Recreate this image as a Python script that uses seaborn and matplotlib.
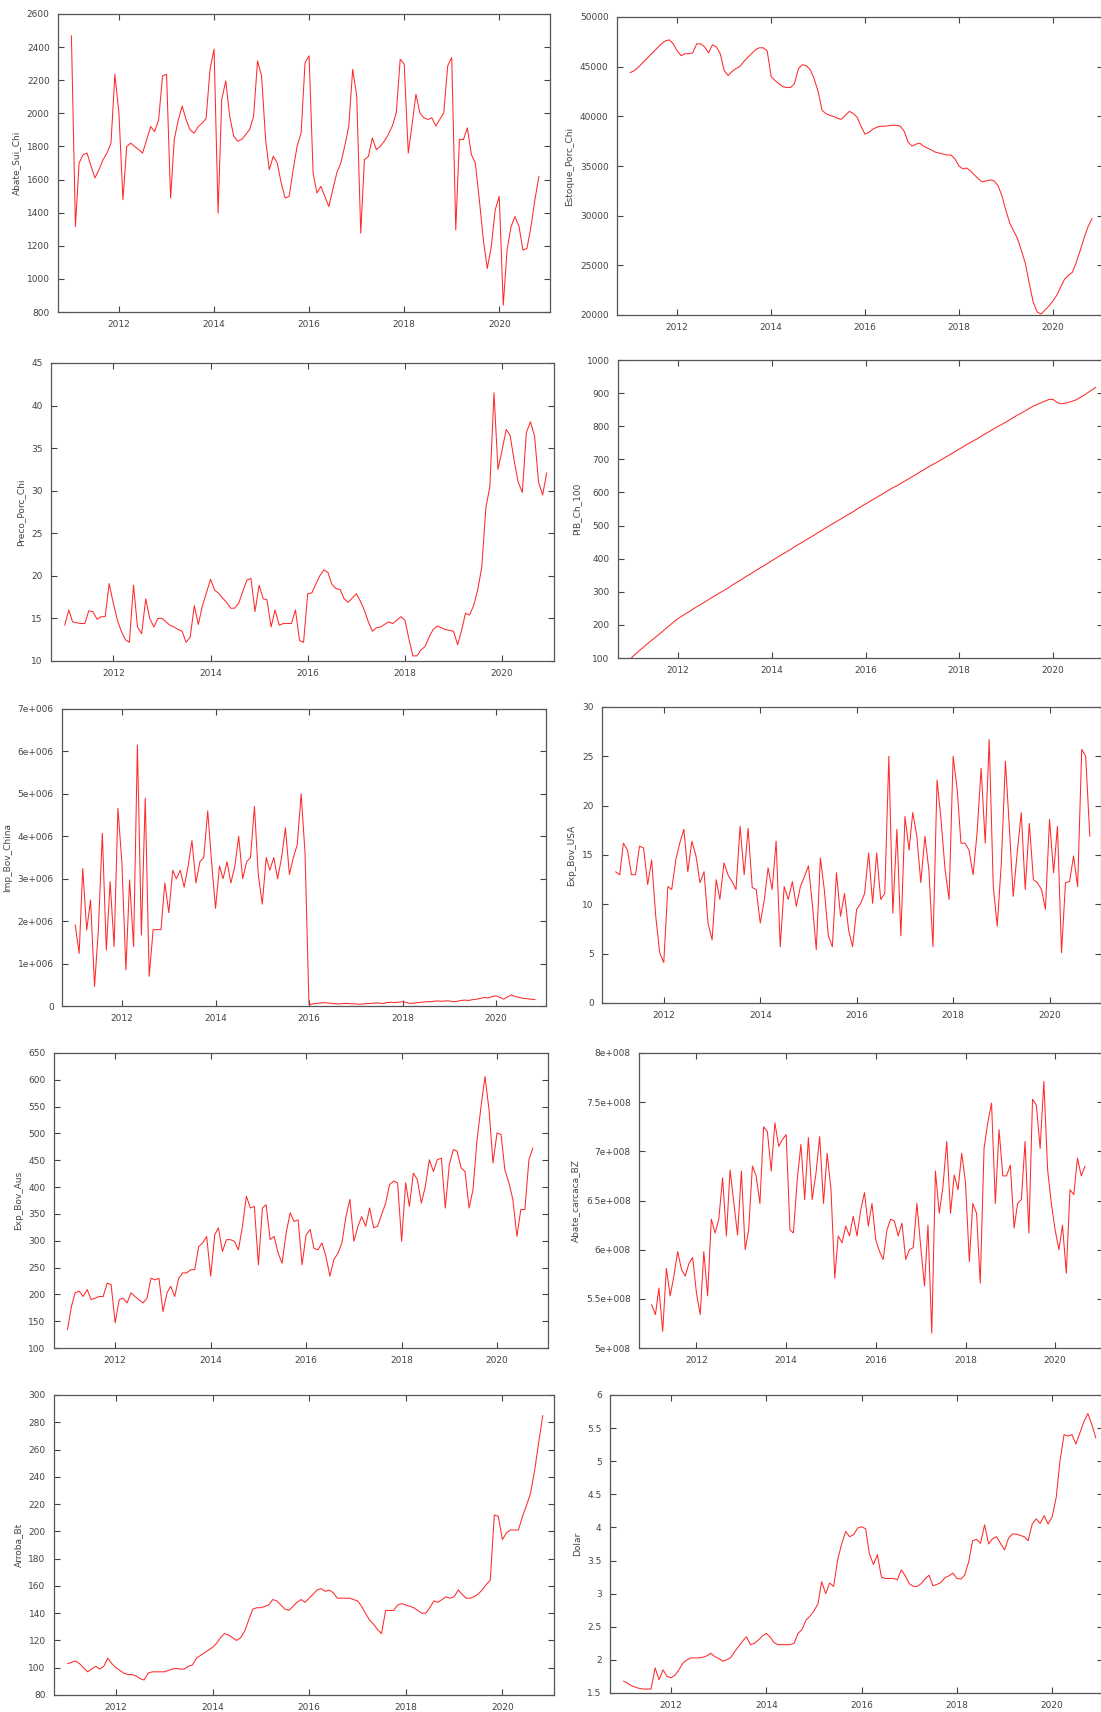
import matplotlib
matplotlib.use("Agg")
import matplotlib.pyplot as plt
import matplotlib.dates as mdates
from matplotlib.ticker import MultipleLocator, FuncFormatter
import pandas as pd
import seaborn as sns

# monthly data, Jan 2011 onwards
abate_sui_chi = [2469, 1316, 1700, 1750, 1760, 1680, 1610, 1660, 1720, 1760, 1820, 2236,
                 2004, 1478, 1800, 1820, 1800, 1780, 1760, 1840, 1920, 1890, 1960, 2226,
                 2236, 1488, 1840, 1960, 2044, 1960, 1900, 1880, 1920, 1940, 1970, 2266,
                 2388, 1397, 2084, 2196, 1983, 1862, 1832, 1842, 1872, 1902, 1983, 2317,
                 2226, 1842, 1660, 1741, 1700, 1579, 1488, 1498, 1660, 1801, 1882, 2307,
                 2347, 1640, 1519, 1559, 1498, 1437, 1539, 1640, 1700, 1801, 1923, 2266,
                 2105, 1276, 1720, 1740, 1852, 1780, 1801, 1832, 1872, 1923, 2003, 2327,
                 2297, 1760, 1923, 2115, 2003, 1973, 1963, 1973, 1923, 1963, 2003, 2287,
                 2337, 1296, 1842, 1842, 1912, 1751, 1700, 1478, 1235, 1063, 1195, 1417,
                 1498, 841, 1174, 1316, 1377, 1316, 1174, 1184, 1316, 1478, 1620]

estoque_porc_chi = [44400, 44600, 44900, 45300, 45700, 46100, 46500, 46900, 47300, 47600, 47700, 47300,
                    46600, 46100, 46300, 46300, 46400, 47300, 47300, 47000, 46400, 47200, 47000, 46300,
                    44600, 44100, 44500, 44800, 45000, 45500, 45900, 46300, 46700, 46900, 46900, 46600,
                    44000, 43600, 43300, 43000, 42900, 42900, 43300, 44800, 45200, 45100, 44700, 43800,
                    42500, 40600, 40300, 40100, 40000, 39800, 39700, 40100, 40500, 40300, 39900, 39000,
                    38200, 38400, 38700, 38900, 39000, 39000, 39050, 39100, 39100, 39000, 38500, 37400,
                    37000, 37200, 37300, 37000, 36800, 36600, 36400, 36300, 36200, 36100, 36100, 35700,
                    35000, 34700, 34800, 34500, 34100, 33700, 33400, 33500, 33600, 33500, 33000, 32000,
                    30500, 29200, 28500, 27700, 26500, 25200, 23200, 21300, 20300, 20100, 20500, 20900,
                    21400, 22000, 22800, 23600, 24000, 24300, 25300, 26500, 27800, 28900, 29700]

preco_porc_chi = [14.2, 16.0, 14.6, 14.5, 14.4, 14.4, 15.9, 15.8, 14.9, 15.2, 15.2, 19.1,
                  16.8, 14.8, 13.5, 12.5, 12.2, 18.9, 14.0, 13.2, 17.3, 15.0, 14.0, 15.0,
                  15.0, 14.6, 14.2, 14.0, 13.7, 13.5, 12.2, 12.8, 16.5, 14.3, 16.5, 18.0,
                  19.6, 18.3, 18.0, 17.4, 16.9, 16.2, 16.2, 16.8, 18.2, 19.5, 19.7, 15.8,
                  18.9, 17.3, 17.2, 14.0, 16.0, 14.2, 14.4, 14.4, 14.4, 16.0, 12.4, 12.2,
                  17.9, 18.0, 19.0, 20.0, 20.7, 20.4, 19.0, 18.5, 18.4, 17.3, 16.9, 17.4,
                  17.9, 17.0, 16.0, 14.6, 13.5, 13.9, 14.0, 14.3, 14.6, 14.4, 14.8, 15.2,
                  14.8, 12.5, 10.6, 10.6, 11.3, 11.7, 12.8, 13.7, 14.1, 13.9, 13.7, 13.6,
                  13.5, 11.9, 13.5, 15.6, 15.4, 16.5, 18.3, 21.0, 28.0, 30.5, 41.5, 32.5,
                  34.8, 37.2, 36.5, 33.5, 31.0, 29.8, 36.8, 38.1, 36.4, 31.0, 29.5, 32.1]

pib_ch_100 = [100, 111, 121, 131, 141, 151, 160, 170, 180, 190, 200, 210,
              219, 227, 234, 241, 249, 256, 263, 270, 278, 285, 292, 299,
              306, 313, 321, 328, 335, 343, 350, 357, 365, 372, 379, 386,
              394, 401, 408, 415, 422, 429, 437, 444, 451, 458, 465, 472,
              480, 487, 494, 501, 508, 515, 522, 529, 536, 543, 551, 558,
              565, 572, 579, 586, 593, 600, 607, 614, 620, 627, 634, 641,
              648, 655, 662, 669, 676, 683, 689, 696, 703, 710, 717, 724,
              731, 738, 745, 752, 758, 765, 772, 779, 786, 793, 800, 806,
              813, 820, 827, 834, 840, 847, 854, 861, 866, 871, 876, 881,
              881, 872, 868, 869, 872, 876, 880, 887, 894, 902, 910, 918]

imp_bov_china = [1.91e6, 1.24e6, 3.24e6, 1.79e6, 2.50e6, 0.46e6, 1.79e6, 4.07e6, 1.32e6, 2.93e6, 1.40e6, 4.66e6,
                 3.36e6, 0.85e6, 2.97e6, 1.40e6, 6.15e6, 1.67e6, 4.90e6, 0.70e6, 1.80e6, 1.80e6, 1.80e6, 2.90e6,
                 2.20e6, 3.20e6, 3.00e6, 3.20e6, 2.80e6, 3.30e6, 3.90e6, 2.90e6, 3.40e6, 3.50e6, 4.60e6, 3.40e6,
                 2.30e6, 3.30e6, 3.00e6, 3.40e6, 2.90e6, 3.30e6, 4.00e6, 3.00e6, 3.40e6, 3.50e6, 4.70e6, 3.10e6,
                 2.40e6, 3.50e6, 3.20e6, 3.50e6, 3.00e6, 3.50e6, 4.20e6, 3.10e6, 3.50e6, 3.80e6, 5.00e6, 3.60e6,
                 0.03e6, 0.05e6, 0.06e6, 0.07e6, 0.08e6, 0.07e6, 0.06e6, 0.05e6, 0.05e6, 0.06e6, 0.06e6, 0.05e6,
                 0.05e6, 0.04e6, 0.05e6, 0.06e6, 0.06e6, 0.07e6, 0.07e6, 0.06e6, 0.08e6, 0.09e6, 0.08e6, 0.09e6,
                 0.10e6, 0.08e6, 0.06e6, 0.07e6, 0.08e6, 0.09e6, 0.10e6, 0.10e6, 0.11e6, 0.12e6, 0.11e6, 0.12e6,
                 0.12e6, 0.10e6, 0.11e6, 0.13e6, 0.14e6, 0.13e6, 0.15e6, 0.16e6, 0.18e6, 0.20e6, 0.19e6, 0.22e6,
                 0.24e6, 0.20e6, 0.16e6, 0.22e6, 0.26e6, 0.22e6, 0.20e6, 0.18e6, 0.17e6, 0.16e6, 0.15e6]

exp_bov_usa = [13.3, 13.0, 16.2, 15.5, 13.0, 13.0, 15.9, 15.7, 12.0, 14.5, 8.8, 5.1,
               4.1, 11.8, 11.5, 14.5, 16.2, 17.6, 13.3, 16.4, 14.9, 12.2, 13.3, 8.1,
               6.4, 12.5, 10.5, 14.2, 13.0, 12.3, 11.5, 17.9, 13.0, 17.7, 11.7, 11.5,
               8.1, 10.5, 13.7, 11.5, 16.4, 5.7, 11.8, 10.5, 12.3, 9.8, 11.8, 12.8,
               13.9, 9.8, 5.4, 14.7, 11.5, 6.8, 5.7, 13.2, 8.8, 11.1, 7.4, 5.7,
               9.5, 10.1, 11.1, 15.2, 10.1, 15.2, 10.5, 11.1, 25.0, 9.1, 17.6, 6.8,
               18.9, 15.5, 19.3, 16.9, 12.2, 16.9, 13.5, 5.7, 22.6, 18.6, 13.5, 10.5,
               25.0, 21.6, 16.2, 16.2, 15.5, 13.0, 17.2, 23.8, 16.2, 26.7, 11.8, 7.8,
               14.2, 24.5, 18.2, 10.8, 15.2, 19.3, 11.5, 18.2, 12.5, 12.2, 11.5, 9.5,
               18.6, 13.2, 17.9, 5.1, 12.2, 12.3, 14.9, 11.8, 25.7, 25.0, 16.9]

exp_bov_aus = [134, 178, 203, 206, 196, 209, 190, 193, 196, 196, 221, 218,
               147, 190, 193, 184, 203, 196, 190, 184, 193, 230, 227, 230,
               168, 203, 215, 196, 230, 240, 240, 246, 246, 289, 296, 308,
               234, 311, 324, 280, 302, 302, 299, 283, 327, 383, 361, 364,
               255, 361, 367, 302, 308, 277, 258, 314, 352, 336, 339, 255,
               311, 321, 286, 283, 296, 271, 234, 265, 277, 296, 345, 377,
               299, 327, 345, 327, 361, 324, 327, 349, 370, 405, 411, 408,
               299, 408, 364, 426, 414, 370, 401, 451, 429, 451, 454, 361,
               442, 470, 467, 436, 429, 361, 395, 488, 551, 606, 544, 445,
               501, 498, 432, 408, 377, 308, 358, 358, 451, 473]

abate_carcaca_bz = [5.44e8, 5.34e8, 5.61e8, 5.17e8, 5.81e8, 5.53e8, 5.73e8, 5.98e8, 5.80e8, 5.73e8, 5.86e8, 5.92e8,
                    5.56e8, 5.34e8, 5.98e8, 5.53e8, 6.31e8, 6.17e8, 6.31e8, 6.73e8, 6.14e8, 6.81e8, 6.47e8, 6.15e8,
                    6.80e8, 6.00e8, 6.20e8, 6.85e8, 6.75e8, 6.47e8, 7.25e8, 7.20e8, 6.80e8, 7.29e8, 7.05e8, 7.12e8,
                    7.17e8, 6.20e8, 6.17e8, 6.71e8, 7.07e8, 6.51e8, 7.14e8, 6.51e8, 6.78e8, 7.15e8, 6.47e8, 6.98e8,
                    6.61e8, 5.71e8, 6.14e8, 6.07e8, 6.24e8, 6.14e8, 6.34e8, 6.14e8, 6.41e8, 6.58e8, 6.24e8, 6.47e8,
                    6.10e8, 5.98e8, 5.90e8, 6.20e8, 6.31e8, 6.29e8, 6.14e8, 6.27e8, 5.90e8, 6.00e8, 6.02e8, 6.47e8,
                    6.03e8, 5.63e8, 6.25e8, 5.15e8, 6.80e8, 6.37e8, 6.64e8, 7.10e8, 6.37e8, 6.76e8, 6.61e8, 6.98e8,
                    6.68e8, 5.88e8, 6.47e8, 6.37e8, 5.66e8, 7.03e8, 7.29e8, 7.49e8, 6.47e8, 7.22e8, 6.75e8, 6.75e8,
                    6.86e8, 6.22e8, 6.47e8, 6.51e8, 7.10e8, 6.17e8, 7.53e8, 7.47e8, 7.03e8, 7.71e8, 6.81e8, 6.47e8,
                    6.20e8, 6.00e8, 6.25e8, 5.76e8, 6.61e8, 6.56e8, 6.93e8, 6.75e8, 6.85e8]

arroba_bt = [103, 104, 105, 103, 100, 97, 99, 101, 99, 101, 107, 103,
             100, 98, 96, 95, 95, 94, 92, 91, 96, 97, 97, 97,
             97, 98, 99, 99.5, 99, 99, 101, 102, 107, 109, 111, 113,
             115, 118, 122, 125, 124, 122, 120, 122, 127, 135, 143, 144,
             144, 145, 146, 150, 149, 146, 143, 142, 145, 148, 150, 148,
             151, 154, 157, 158, 156, 157, 155, 151, 151, 151, 151, 150,
             149, 145, 140, 135, 132, 128, 125, 142, 142, 142, 146, 147,
             146, 145, 144, 142, 140, 140, 144, 149, 148, 150, 152, 151,
             152, 157, 154, 151, 151, 152, 154, 157, 161, 164, 212, 211,
             194, 199, 201, 201, 201, 211, 219, 228, 245, 265, 285]

dolar = [1.68, 1.65, 1.61, 1.59, 1.57, 1.56, 1.56, 1.56, 1.88, 1.70, 1.85, 1.75,
         1.73, 1.77, 1.85, 1.95, 2.00, 2.03, 2.03, 2.03, 2.04, 2.06, 2.10, 2.05,
         2.02, 1.98, 2.00, 2.03, 2.12, 2.20, 2.28, 2.35, 2.23, 2.25, 2.30, 2.36,
         2.40, 2.34, 2.26, 2.23, 2.23, 2.23, 2.23, 2.25, 2.40, 2.46, 2.60, 2.66,
         2.74, 2.85, 3.18, 3.00, 3.16, 3.11, 3.51, 3.75, 3.94, 3.86, 3.89, 3.99,
         4.01, 3.98, 3.60, 3.44, 3.59, 3.25, 3.23, 3.23, 3.23, 3.21, 3.36, 3.27,
         3.15, 3.11, 3.11, 3.15, 3.22, 3.28, 3.12, 3.14, 3.17, 3.24, 3.27, 3.31,
         3.23, 3.22, 3.28, 3.48, 3.80, 3.82, 3.76, 4.04, 3.75, 3.83, 3.86, 3.76,
         3.66, 3.84, 3.90, 3.90, 3.88, 3.86, 3.80, 4.05, 4.13, 4.06, 4.18, 4.05,
         4.16, 4.45, 5.00, 5.40, 5.38, 5.40, 5.26, 5.43, 5.60, 5.72, 5.55, 5.35]

dates = pd.date_range("2011-01-01", periods=120, freq="MS")

plain = FuncFormatter(lambda v, p: f"{v:g}")
sci6 = FuncFormatter(lambda v, p: "0" if v == 0 else f"{v / 1e6:g}e+006")
sci8 = FuncFormatter(lambda v, p: f"{v / 1e8:g}e+008")

# name, values, ylim, step, formatter, axes box in pixels (left, right, top, bottom)
panels = [
    ("Abate_Sui_Chi", abate_sui_chi, (800, 2600), 200, plain, (58, 550, 14, 312)),
    ("Estoque_Porc_Chi", estoque_porc_chi, (20000, 50000), 5000, plain, (617, 1103, 17, 315)),
    ("Preco_Porc_Chi", preco_porc_chi, (10, 45), 5, plain, (51, 554, 363, 661)),
    ("PIB_Ch_100", pib_ch_100, (100, 1000), 100, plain, (618, 1103, 360, 658)),
    ("Imp_Bov_China", imp_bov_china, (0, 7e6), 1e6, sci6, (62, 546, 709, 1006)),
    ("Exp_Bov_USA", exp_bov_usa, (0, 30), 5, plain, (602, 1101, 707, 1003)),
    ("Exp_Bov_Aus", exp_bov_aus, (100, 650), 50, plain, (54, 548, 1053, 1348)),
    ("Abate_carcaca_BZ", abate_carcaca_bz, (5e8, 8e8), 0.5e8, sci8, (639, 1103, 1053, 1348)),
    ("Arroba_Bt", arroba_bt, (80, 300), 20, plain, (54, 554, 1395, 1695)),
    ("Dolar", dolar, (1.5, 6), 0.5, plain, (610, 1103, 1395, 1693)),
]

sns.set_style("ticks")
plt.rcParams["font.family"] = ["DejaVu Sans"]

W, H = 1101, 1712
fig = plt.figure(figsize=(W / 100, H / 100), dpi=100)

for name, vals, ylim, step, fmt, (l, r, t, b) in panels:
    ax = fig.add_axes([l / W, 1 - b / H, (r - l) / W, (b - t) / H])
    df = pd.DataFrame({"date": dates[:len(vals)], name: vals})
    sns.lineplot(data=df, x="date", y=name, ax=ax, color="#ff2a2a", linewidth=0.75)
    ax.set_xlim(pd.Timestamp("2010-09-20"), pd.Timestamp("2021-01-25"))
    ax.set_ylim(*ylim)
    ax.yaxis.set_major_locator(MultipleLocator(step))
    ax.yaxis.set_major_formatter(fmt)
    ax.xaxis.set_major_locator(mdates.YearLocator(2))
    ax.xaxis.set_major_formatter(mdates.DateFormatter("%Y"))
    ax.set_xlabel("")
    ax.set_ylabel(name, fontsize=6.5, color="#444444")
    ax.tick_params(direction="in", top=True, right=True, length=4, width=0.8,
                   labelsize=6.5, colors="#444444", pad=6)
    for sp in ax.spines.values():
        sp.set_color("#555555")
        sp.set_linewidth(0.9)

fig.savefig("out.png", dpi=100)
